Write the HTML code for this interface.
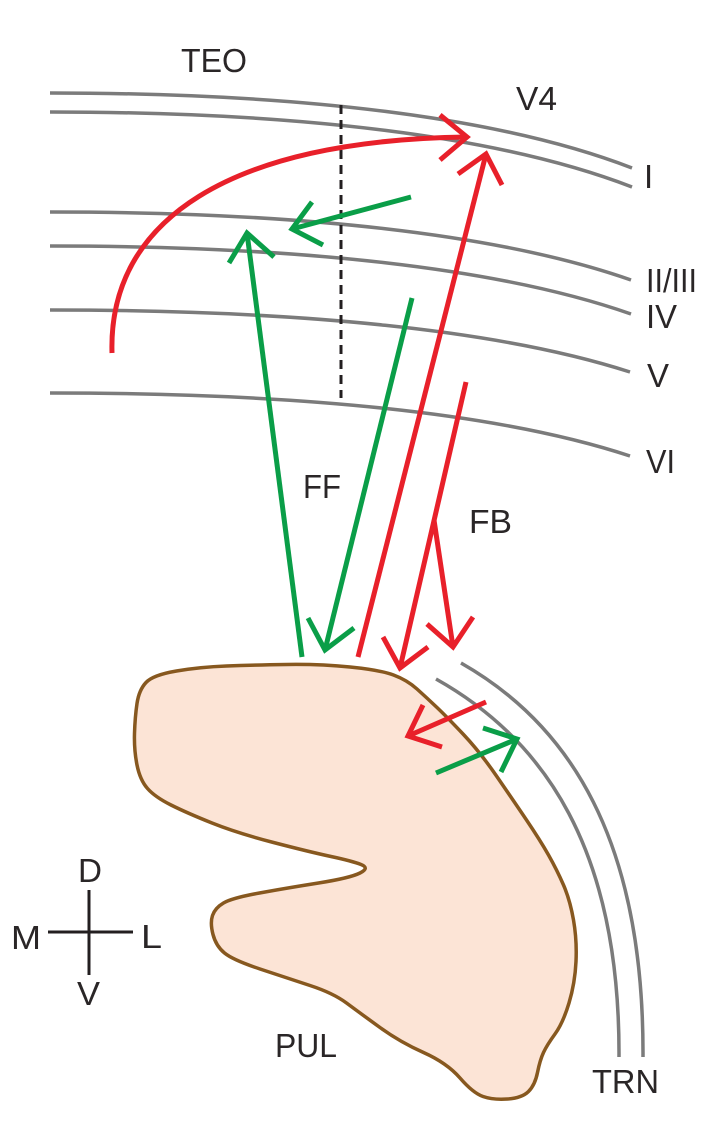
<!DOCTYPE html>
<html>
<head>
<meta charset="utf-8">
<style>
  html,body{margin:0;padding:0;background:#ffffff;}
  body{width:726px;height:1141px;overflow:hidden;}
  svg{display:block;}
  text{font-family:"Liberation Sans",Arial,sans-serif;font-size:33px;fill:#2a2627;}
</style>
</head>
<body>
<svg width="726" height="1141" viewBox="0 0 726 1141" xmlns="http://www.w3.org/2000/svg">
  <g fill="none" stroke="#7b7b7b" stroke-width="3.5">
    <path d="M50,93 C300,93 500,117 632,168"/>
    <path d="M50,112 C300,112 500,136 632,187"/>
    <path d="M50,212 C300,212 500,234 631,280"/>
    <path d="M50,246 C300,246 500,268 631,314"/>
    <path d="M50,310 C300,310 500,330 630,372"/>
    <path d="M50,393 C300,393 500,413 630,456"/>
  </g>

  <line x1="341" y1="105" x2="341" y2="398" stroke="#231f20" stroke-width="3" stroke-dasharray="9 6"/>

  <path fill="#fce4d6" stroke="#87581f" stroke-width="3.5" stroke-linejoin="round" d="
    M176.5,671
    Q200,667 226.5,666
    Q253,665 286.5,664.5
    Q320,664 350,667
    Q380,670 393.5,675
    Q407,680 417,689
    Q427,698 437,707.5
    Q447,717 463.5,734.5
    Q480,752 496.5,776
    Q513,800 526.5,820
    Q540,840 548.5,855
    Q557,870 563.5,885
    Q570,900 573.5,920
    Q577,940 576,961.5
    Q575,983 569,1003
    Q563,1023 555,1034
    Q547,1045 543.5,1052.5
    Q540,1060 537.5,1072.5
    Q535,1085 528.5,1091.5
    Q522,1098 507.5,1099
    Q493,1100 483,1096.5
    Q473,1093 460,1078
    Q447,1063 423.5,1052.5
    Q400,1042 380,1027.5
    Q360,1013 346.5,1003
    Q333,993 310,985.5
    Q287,978 260,969
    Q233,960 224.5,953
    Q216,946 213,934.5
    Q210,923 212.5,915.5
    Q215,908 223.5,903
    Q232,898 259.5,893
    Q287,888 318.5,883
    Q350,878 360,873
    Q370,868 361,864.5
    Q352,861 331,856.5
    Q310,852 273.5,842.5
    Q237,833 212,823
    Q187,813 171,805
    Q155,797 147.5,788.5
    Q140,780 137,765
    Q134,750 134.5,733.5
    Q135,717 137,703.5
    Q139,690 146,682.5
    Q153,675 176.5,671 Z"/>

  <g fill="none" stroke="#7b7b7b" stroke-width="3.5">
    <path d="M436,679 C545,740 620,850 619,1057"/>
    <path d="M461,663 C570,725 644,840 643,1057"/>
  </g>

  <g fill="none" stroke="#e8202a" stroke-width="5" stroke-linecap="butt" stroke-linejoin="miter">
    <path d="M112,353 C108,220 230,140 467,137"/>
    <path d="M440,115 L467,137 L440,160"/>
    <path d="M358,657 L486,154"/>
    <path d="M458,174 L486,154 L502,185"/>
    <path d="M466,382 L400,668"/>
    <path d="M383,637 L400,668 L428,647"/>
    <path d="M434,520 L453,647"/>
    <path d="M427,624 L453,647 L473,617"/>
    <path d="M486,702 L408,736"/>
    <path d="M423,705 L408,736 L442,747"/>
  </g>

  <g fill="none" stroke="#0a9e48" stroke-width="5" stroke-linecap="butt" stroke-linejoin="miter">
    <path d="M302,657 L247,233"/>
    <path d="M229,263 L247,233 L274,257"/>
    <path d="M411,197 L292,229"/>
    <path d="M312,202 L292,229 L323,245"/>
    <path d="M412,298 L325,650"/>
    <path d="M308,618 L325,650 L354,628"/>
    <path d="M436,773 L517,739"/>
    <path d="M483,728 L517,739 L501,772"/>
  </g>

  <g stroke="#231f20" stroke-width="3">
    <line x1="89" y1="890" x2="89" y2="975"/>
    <line x1="48" y1="932" x2="133" y2="932"/>
  </g>

  <text x="181" y="72" textLength="66" lengthAdjust="spacingAndGlyphs">TEO</text>
  <text x="516" y="110" textLength="41" lengthAdjust="spacingAndGlyphs">V4</text>
  <text x="644" y="188">I</text>
  <text x="646" y="292" textLength="51" lengthAdjust="spacingAndGlyphs">II/III</text>
  <text x="646" y="328" textLength="31" lengthAdjust="spacingAndGlyphs">IV</text>
  <text x="647" y="387" textLength="22" lengthAdjust="spacingAndGlyphs">V</text>
  <text x="646" y="473" textLength="29" lengthAdjust="spacingAndGlyphs">VI</text>
  <text x="303" y="498" textLength="38" lengthAdjust="spacingAndGlyphs">FF</text>
  <text x="469" y="533" textLength="43" lengthAdjust="spacingAndGlyphs">FB</text>
  <text x="275" y="1057" textLength="62" lengthAdjust="spacingAndGlyphs">PUL</text>
  <text x="592" y="1093" textLength="67" lengthAdjust="spacingAndGlyphs">TRN</text>
  <text x="78" y="882" textLength="24" lengthAdjust="spacingAndGlyphs">D</text>
  <text x="11" y="949" textLength="30" lengthAdjust="spacingAndGlyphs">M</text>
  <text x="141" y="948" textLength="21" lengthAdjust="spacingAndGlyphs">L</text>
  <text x="77" y="1005" textLength="23" lengthAdjust="spacingAndGlyphs">V</text>
</svg>
</body>
</html>
